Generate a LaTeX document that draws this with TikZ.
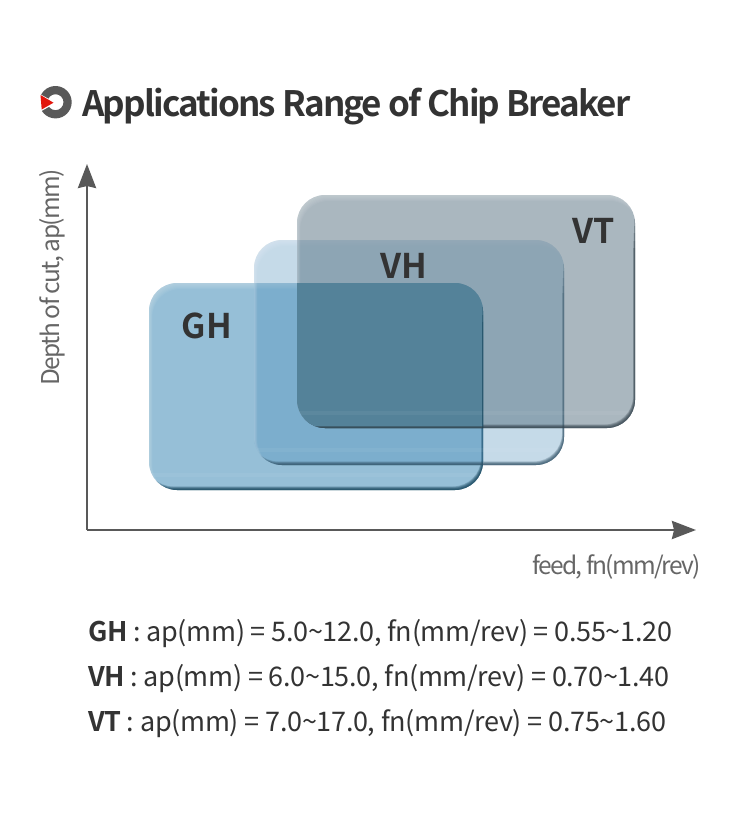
\documentclass[tikz,border=0pt]{standalone}
\usepackage{fontspec}
\setmainfont{Noto Sans CJK KR}[BoldFont={Noto Sans CJK KR Bold}]
\usetikzlibrary{arrows.meta}
\definecolor{axisgray}{HTML}{595959}
\definecolor{labelgray}{HTML}{666666}
\definecolor{ink}{HTML}{333333}
\definecolor{ringgray}{HTML}{595959}
\definecolor{iconred}{HTML}{E2150C}
\definecolor{ghfill}{HTML}{2F81B1}
\definecolor{vhfill}{HTML}{4187B6}
\definecolor{vtfill}{HTML}{577181}
\definecolor{coreblue}{HTML}{548299}
\definecolor{ghedge}{HTML}{0C3B52}
\definecolor{vhedge}{HTML}{2F4F63}
\definecolor{vtedge}{HTML}{2F3E48}
\tikzset{
  axisline/.style={draw=axisgray,line width=2.8pt,-{Stealth[length=24pt,width=18pt,inset=2pt]}},
  boxlabel/.style={text=ink,font=\fontsize{34}{34}\selectfont\bfseries,anchor=base},
  axislabel/.style={text=labelgray,font=\fontsize{24.5}{24.5}\selectfont\addfontfeature{LetterSpace=-7}},
  specline/.style={text=ink,font=\fontsize{27}{27}\selectfont\addfontfeature{LetterSpace=-1.1},anchor=base west},
}
% #1 x0, #2 y0, #3 x1, #4 y1, #5 fill, #6 opacity, #7 edge colour
\newcommand{\glassbox}[7]{%
  \fill[#5,fill opacity=#6,rounded corners=28pt] (#1,#2) rectangle (#3,#4);
  \begin{scope}
    \clip[rounded corners=28pt] (#1,#2) rectangle (#3,#4);
    % faint band near the foot
    \fill[white,fill opacity=.05] (#1,#4-17) rectangle (#3,#4-13);
    % lit top and left rim, fading inwards
    \foreach \d in {1,2,...,6}{
      \fill[white,fill opacity=.05,even odd rule,rounded corners=28pt]
        (#1-3,#2-3) rectangle (#3+3,#4+3)
        (#1+.55*\d,#2+\d) rectangle (#3+3,#4+3);
    }
    % dark bottom and right rim, fading inwards and towards the top
    \foreach \d in {.6,1.2,1.8,2.4,3,3.6}{
      \begin{scope}
        \clip (#1-4,#2+10+12*\d) rectangle (#3+4,#4+4);
        \fill[#7,fill opacity=.22,even odd rule,rounded corners=28pt]
          (#1-4,#2-4) rectangle (#3+4,#4+4)
          (#1-4,#2-4) rectangle (#3-.55*\d,#4-\d);
      \end{scope}
    }
  \end{scope}
}
\begin{document}
\begin{tikzpicture}[x=1pt,y=-1pt]
\useasboundingbox (0,0) rectangle (750,819);
\fill[white] (0,0) rectangle (750,819);

% title icon
\coordinate (ringc) at (55.5,102.2);
\fill[ringgray,even odd rule] (ringc) circle (16.2) (ringc) circle (8);
\fill[white] (37,92.5) -- (56,102.8) -- (38,113) -- cycle;
\fill[iconred] (40.5,95) -- (53.5,102.7) -- (41.7,109.5) -- cycle;
\node[text=ink,font=\fontsize{35}{35}\selectfont\bfseries\addfontfeature{LetterSpace=-5.25},anchor=base west,inner sep=0pt] (title) at (82,116) {Applications Range of Chip Breaker};

% axes
\coordinate (origin) at (87,530);
\coordinate (ytip) at (87,164);
\coordinate (xtip) at (696,530);
\draw[axisline] (origin) -- (ytip);
\draw[axisline] (origin) -- (xtip);

% boxes
\glassbox{149}{283}{483}{490}{ghfill}{.5}{ghedge}
\glassbox{254}{240}{564}{465}{vhfill}{.3}{vhedge}
\glassbox{297}{195}{635}{428}{vtfill}{.5}{vtedge}
% triple overlap
\begin{scope}
  \clip[rounded corners=28pt] (297,195) rectangle (635,428);
  \clip[rounded corners=28pt] (149,283) rectangle (483,490);
  \fill[coreblue] (290,283) rectangle (490,428);
  \fill[white,fill opacity=.05] (290,411) rectangle (490,415);
  \foreach \d in {.6,1.2,1.8,2.4}{
    \fill[ghedge,fill opacity=.25] (483-.55*\d,293+12*\d) rectangle (484,428);
    \fill[vtedge,fill opacity=.28] (290,428-\d) rectangle (490,429);
  }
\end{scope}

\node[boxlabel,inner sep=0pt] (gh) at (207,338) {GH};
\node[boxlabel,inner sep=0pt] (vh) at (404,278) {VH};
\node[boxlabel,inner sep=0pt] (vt) at (594,243) {VT};

% axis labels
\node[axislabel,rotate=90,anchor=center,inner sep=0pt] (ylab) at (52,277.5) {Depth of cut, ap(mm)};
\node[axislabel,anchor=base east,inner sep=0pt] (xlab) at (701,574) {feed, fn(mm/rev)};

% specification lines
\node[specline,inner sep=0pt] (l1) at (88,641) {\textbf{GH} : ap(mm) = 5.0\textasciitilde12.0, fn(mm/rev) = 0.55\textasciitilde1.20};
\node[specline,inner sep=0pt] (l2) at (88,686) {\textbf{VH} : ap(mm) = 6.0\textasciitilde15.0, fn(mm/rev) = 0.70\textasciitilde1.40};
\node[specline,inner sep=0pt] (l3) at (88,731) {\textbf{VT} : ap(mm) = 7.0\textasciitilde17.0, fn(mm/rev) = 0.75\textasciitilde1.60};
\end{tikzpicture}
\end{document}
